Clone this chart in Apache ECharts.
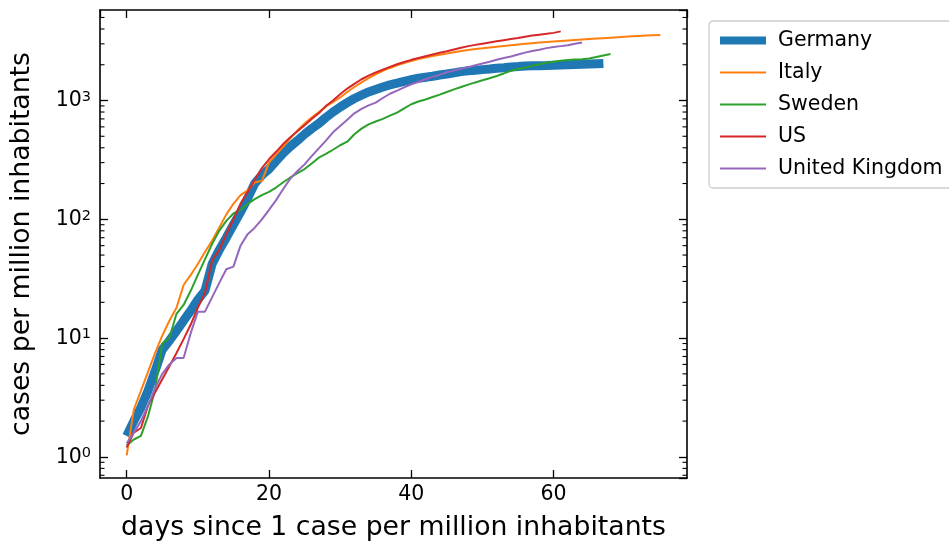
<!DOCTYPE html>
<html lang="en">
<head>
<meta charset="UTF-8">
<title>cases per million inhabitants</title>
<script src="https://cdn.jsdelivr.net/npm/echarts@6/dist/echarts.min.js"></script>
<style>
  html, body { margin: 0; padding: 0; background: #fff; }
  #chart { width: 949px; height: 550px; }
</style>
</head>
<body>
<div id="chart"></div>
<script>
// values per day since 1 case per million (index = day)
var countries = ['Germany', 'Italy', 'Sweden', 'US', 'United Kingdom'];

var germany = [1.5, 2.0, 2.6, 3.6, 5.3, 8.0, 9.5, 11.5, 14, 17, 21, 25, 42, 55, 70, 90, 115, 150, 200, 235,
  265, 310, 360, 410, 460, 520, 580, 640, 720, 800, 880, 960, 1040, 1110, 1180, 1240, 1300, 1355, 1400, 1450,
  1500, 1540, 1570, 1600, 1640, 1670, 1710, 1750, 1780, 1800, 1820, 1840, 1870, 1890, 1915, 1930, 1950, 1960,
  1965, 1970, 1980, 1990, 2000, 2010, 2020, 2030, 2040, 2050];

var italy = [1.03, 2.5, 3.6, 5.2, 7.5, 10.5, 14, 18, 28, 34, 42, 53, 66, 85, 110, 135, 160, 175, 205, 210,
  300, 350, 410, 480, 560, 640, 720, 800, 890, 970, 1060, 1180, 1300, 1420, 1540, 1660, 1780, 1880, 1980, 2070,
  2150, 2230, 2300, 2370, 2430, 2490, 2550, 2610, 2660, 2710, 2750, 2800, 2840, 2880, 2920, 2960, 3000, 3040,
  3080, 3110, 3140, 3170, 3200, 3230, 3260, 3290, 3320, 3350, 3380, 3410, 3440, 3470, 3500, 3520, 3540, 3560];

var sweden = [1.25, 1.4, 1.5, 2.2, 3.7, 9.0, 10, 16, 19, 25, 34, 46, 62, 80, 97, 112, 120, 135, 148, 160,
  170, 185, 205, 225, 245, 265, 295, 330, 355, 385, 420, 450, 520, 580, 630, 665, 700, 745, 790, 860,
  930, 980, 1020, 1070, 1120, 1180, 1240, 1300, 1360, 1420, 1480, 1540, 1610, 1690, 1780, 1840, 1890, 1960,
  2020, 2080, 2120, 2160, 2190, 2210, 2230, 2260, 2320, 2390, 2460];

var us = [1.2, 1.6, 1.75, 2.7, 3.5, 4.5, 5.8, 7.5, 9.8, 13, 18, 24, 45, 55, 75, 100, 135, 170, 215, 270,
  320, 370, 430, 490, 550, 620, 700, 780, 900, 1000, 1130, 1260, 1380, 1510, 1620, 1720, 1820, 1920, 2020, 2110,
  2200, 2280, 2360, 2440, 2520, 2600, 2690, 2780, 2870, 2940, 3010, 3080, 3150, 3220, 3290, 3360, 3440, 3520,
  3580, 3640, 3710, 3820];

var uk = [1.3, 1.6, 2.0, 2.7, 3.8, 5.0, 6.0, 6.8, 6.8, 11, 16.7, 16.7, 22, 29, 38, 40, 60, 75, 85, 100,
  120, 145, 180, 220, 255, 290, 340, 395, 460, 540, 610, 690, 780, 850, 910, 960, 1050, 1140, 1210, 1290,
  1370, 1440, 1510, 1580, 1650, 1730, 1790, 1850, 1910, 1980, 2050, 2120, 2200, 2280, 2350, 2440, 2530, 2610,
  2680, 2760, 2820, 2870, 2920, 3000, 3080];

var values = [germany, italy, sweden, us, uk];
var colors = ['#1f77b4', '#ff7f0e', '#2ca02c', '#d62728', '#9467bd'];
var widths = [9, 2, 2, 2, 2];

// minor log ticks (2..9 x 10^n)
var minorTicks = [0.7, 0.8, 0.9, 2, 3, 4, 5, 6, 7, 8, 9, 20, 30, 40, 50, 60, 70, 80, 90,
  200, 300, 400, 500, 600, 700, 800, 900, 2000, 3000, 4000, 5000];

var xMin = -3.75, xMax = 78.75;
var yMin = 0.664, yMax = 5780;
var font = 'DejaVu Sans';

function logLabel(v) {
  var l = Math.log10(v);
  var e = Math.round(l);
  if (Math.abs(l - e) > 0.01) return '';
  return '{b|10}{s|' + e + '}';
}

var series = countries.map(function (name, i) {
  return {
    name: name,
    type: 'line',
    symbol: 'none',
    data: values[i].map(function (v, d) { return [d, v]; }),
    lineStyle: { color: colors[i], width: widths[i] },
    itemStyle: { color: colors[i] },
    z: 2 + i
  };
});

series.push({
  type: 'custom',
  silent: true,
  clip: false,
  data: minorTicks.map(function (v) { return [0, v]; }),
  renderItem: function (params, api) {
    var cs = params.coordSys;
    var y = api.coord([0, api.value(1)])[1];
    var st = { stroke: '#000', lineWidth: 1.1 };
    return {
      type: 'group',
      children: [
        { type: 'line', shape: { x1: cs.x, y1: y, x2: cs.x + 4.5, y2: y }, style: st },
        { type: 'line', shape: { x1: cs.x + cs.width - 4.5, y1: y, x2: cs.x + cs.width, y2: y }, style: st }
      ]
    };
  },
  z: 10
});

var axisLine = { show: true, onZero: false, lineStyle: { color: '#000', width: 1.6 } };
var tick = { show: true, inside: true, length: 8, lineStyle: { color: '#000', width: 1.3 } };

var option = {
  animation: false,
  backgroundColor: '#fff',
  grid: { left: 100, right: 262, top: 10, bottom: 72 },
  legend: {
    orient: 'vertical',
    left: 709,
    top: 21,
    padding: [7.5, 10, 7.5, 7],
    itemWidth: 46,
    itemHeight: 20,
    itemGap: 8,
    borderColor: '#cccccc',
    borderWidth: 1.3,
    borderRadius: 4,
    data: countries.map(function (name, i) {
      return { name: name, lineStyle: { width: i === 0 ? 8 : 2 } };
    }),
    itemStyle: { opacity: 0 },
    textStyle: { fontFamily: font, fontSize: 20.5, color: '#000', lineHeight: 24, padding: [0, 0, 0, 7] }
  },
  xAxis: [{
    type: 'value',
    min: xMin, max: xMax,
    splitNumber: 4,
    name: 'days since 1 case per million inhabitants',
    nameLocation: 'middle',
    nameGap: 37,
    nameTextStyle: { fontFamily: font, fontSize: 26.7, color: '#000' },
    axisLine: axisLine,
    axisTick: tick,
    splitLine: { show: false },
    axisLabel: {
      fontFamily: font, fontSize: 20.5, color: '#000', margin: 6,
      showMinLabel: false, showMaxLabel: false,
      formatter: function (v) { return v % 20 === 0 ? String(v) : ''; }
    }
  }, {
    type: 'value',
    position: 'top',
    min: xMin, max: xMax,
    splitNumber: 4,
    axisLine: axisLine,
    axisTick: tick,
    splitLine: { show: false },
    axisLabel: { show: false }
  }],
  yAxis: [{
    type: 'log',
    logBase: 10,
    min: yMin, max: yMax,
    name: 'cases per million inhabitants',
    nameLocation: 'middle',
    nameGap: 64,
    nameTextStyle: { fontFamily: font, fontSize: 26.7, color: '#000' },
    axisLine: axisLine,
    axisTick: tick,
    splitLine: { show: false },
    axisLabel: {
      margin: 9,
      showMinLabel: false, showMaxLabel: false,
      formatter: logLabel,
      rich: {
        b: { fontFamily: font, fontSize: 20.5, color: '#000', lineHeight: 22, verticalAlign: 'bottom' },
        s: { fontFamily: font, fontSize: 14.5, color: '#000', lineHeight: 14, verticalAlign: 'top' }
      }
    }
  }, {
    type: 'log',
    logBase: 10,
    position: 'right',
    min: yMin, max: yMax,
    axisLine: axisLine,
    axisTick: tick,
    splitLine: { show: false },
    axisLabel: { show: false }
  }],
  series: series
};

var chart = echarts.init(document.getElementById('chart'), null, { renderer: 'canvas' });
chart.setOption(option);
</script>
</body>
</html>
